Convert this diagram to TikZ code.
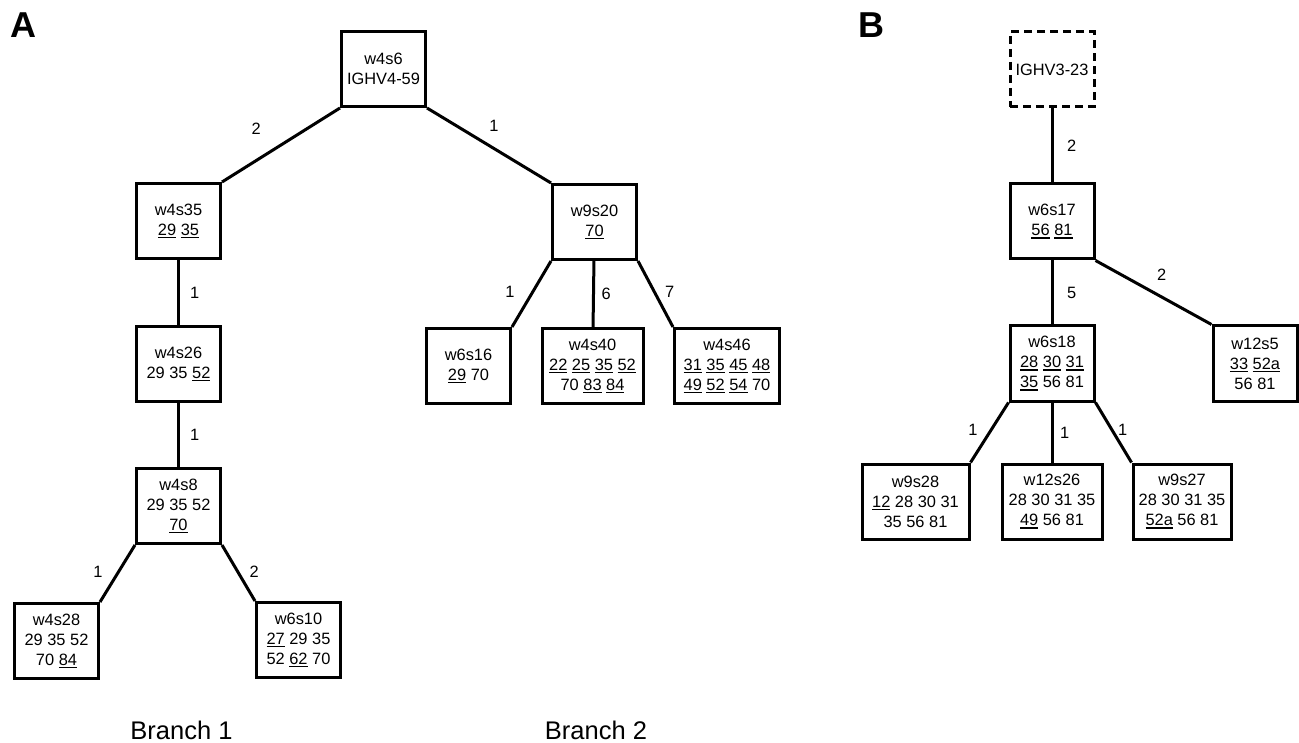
\documentclass[tikz,border=0pt]{standalone}
\usepackage{fontspec}
\setmainfont{Liberation Sans}
\usetikzlibrary{positioning}
\newcommand{\mut}[1]{\setbox0=\hbox{#1}\rlap{\rule[-2.8pt]{\wd0}{1.2pt}}\box0\relax}

\begin{document}
\begin{tikzpicture}[
  x=1pt, y=-1pt,
  seq/.style={draw, rectangle, line width=3pt, minimum width=84pt, minimum height=75pt,
    inner xsep=5pt, align=center, font=\fontsize{16.4}{20}\selectfont},
  germ/.style={seq, dash pattern=on 8pt off 5pt},
  link/.style={line width=3pt},
  wt/.style={inner sep=0pt, font=\fontsize{16.4}{20}\selectfont},
  panel/.style={font=\fontsize{36}{36}\selectfont\bfseries},
  branch/.style={anchor=base, font=\fontsize{25.5}{30}\selectfont}
]
\useasboundingbox (0,0) rectangle (1299,743);

% panel A
\node[panel] (pa) at (23,25) {A};
\node[seq] (w4s6) at (383.5,69) {w4s6\\IGHV4-59};
\node[seq, below left=74pt and 118pt of w4s6] (w4s35) {w4s35\\\mut{29} \mut{35}};
\node[seq, below=65pt of w4s35] (w4s26) {w4s26\\29 35 \mut{52}};
\node[seq, below=64pt of w4s26] (w4s8) {w4s8\\29 35 52\\\mut{70}};
\node[seq, below left=57pt and 35pt of w4s8] (w4s28) {w4s28\\29 35 52\\70 \mut{84}};
\node[seq, below right=56pt and 33pt of w4s8] (w6s10) {w6s10\\\mut{27} 29 35\\52 \mut{62} 70};
\node[seq, below right=75pt and 124pt of w4s6] (w9s20) {w9s20\\\mut{70}};
\node[seq, below left=66pt and 39pt of w9s20] (w6s16) {w6s16\\\mut{29} 70};
\node[seq, minimum width=101pt, below=66pt of w9s20, xshift=-2pt] (w4s40)
  {w4s40\\\mut{22} \mut{25} \mut{35} \mut{52}\\70 \mut{83} \mut{84}};
\node[seq, minimum width=105pt, below right=66pt and 35pt of w9s20] (w4s46)
  {w4s46\\\mut{31} \mut{35} \mut{45} \mut{48}\\\mut{49} \mut{52} \mut{54} 70};

\draw[link] (w4s6.south west) -- node[wt, pos=0.71, above=25pt] {2} (w4s35.north east);
\draw[link] (w4s35) -- node[wt, midway, right=10pt] {1} (w4s26);
\draw[link] (w4s26) -- node[wt, midway, right=10pt] {1} (w4s8);
\draw[link] (w4s8.south west) -- node[wt, pos=0.47, left=14.5pt] {1} (w4s28.north east);
\draw[link] (w4s8.south east) -- node[wt, pos=0.47, right=10.5pt] {2} (w6s10.north west);
\draw[link] (w4s6.south east) -- node[wt, pos=0.54, above=15pt] {1} (w9s20.north west);
\draw[link] (w9s20.south west) -- node[wt, pos=0.46, left=17pt] {1} (w6s16.north east);
\draw[link] (w9s20) -- node[wt, midway, right=6.5pt] {6} (w4s40);
\draw[link] (w9s20.south east) -- node[wt, pos=0.46, right=9.5pt] {7} (w4s46.north west);

\node[branch] (b1) at (181.5,739) {Branch 1};
\node[branch] (b2) at (596,739) {Branch 2};

% panel B
\node[panel] (pb) at (871,25) {B};
\node[germ] (ighv) at (1052,69.5) {IGHV3-23};
\node[seq, below=74pt of ighv] (w6s17) {w6s17\\\mut{56} \mut{81}};
\node[seq, below=64pt of w6s17] (w6s18) {w6s18\\\mut{28} \mut{30} \mut{31}\\\mut{35} 56 81};
\node[seq, below right=64pt and 116pt of w6s17] (w12s5) {w12s5\\\mut{33} \mut{52a}\\56 81};
\node[seq, minimum width=107pt, below left=60pt and 38pt of w6s18] (w9s28)
  {w9s28\\\mut{12} 28 30 31\\35 56 81};
\node[seq, minimum width=100pt, below=60pt of w6s18] (w12s26) {w12s26\\28 30 31 35\\\mut{49} 56 81};
\node[seq, minimum width=98pt, below right=60pt and 36pt of w6s18] (w9s27)
  {w9s27\\28 30 31 35\\\mut{52a} 56 81};

\draw[link] (ighv) -- node[wt, midway, right=13.5pt] {2} (w6s17);
\draw[link] (w6s17) -- node[wt, midway, right=13.5pt] {5} (w6s18);
\draw[link] (w6s17.south east) -- node[wt, pos=0.57, above=15pt] {2} (w12s5.north west);
\draw[link] (w6s18.south west) -- node[wt, pos=0.45, left=12.5pt] {1} (w9s28.north east);
\draw[link] (w6s18) -- node[wt, midway, right=6.5pt] {1} (w12s26);
\draw[link] (w6s18.south east) -- node[wt, pos=0.45, right=5pt] {1} (w9s27.north west);
\end{tikzpicture}
\end{document}
